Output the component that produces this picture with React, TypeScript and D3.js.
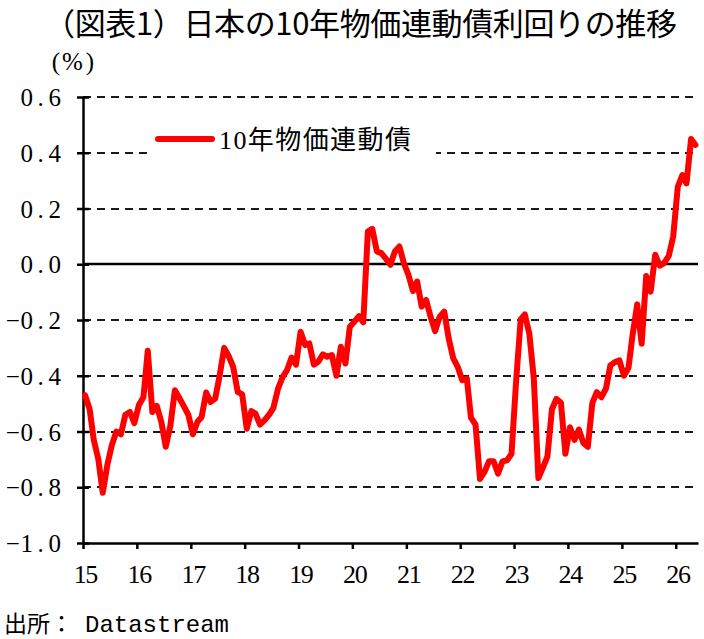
import * as d3 from 'd3';
import { useEffect, useRef } from 'react';

const title = '（図表1）日本の10年物価連動債利回りの推移';
const unitLabel = '(%)';
const seriesName = '10年物価連動債';
const sourceLabel = '出所：';
const sourceName = 'Datastream';

// monthly observations (mid-month)
const months = [
    '2015-01', '2015-02', '2015-03', '2015-04', '2015-05', '2015-06', '2015-07', '2015-08', '2015-09', '2015-10', '2015-11', '2015-12',
    '2016-01', '2016-02', '2016-03', '2016-04', '2016-05', '2016-06', '2016-07', '2016-08', '2016-09', '2016-10', '2016-11', '2016-12',
    '2017-01', '2017-02', '2017-03', '2017-04', '2017-05', '2017-06', '2017-07', '2017-08', '2017-09', '2017-10', '2017-11', '2017-12',
    '2018-01', '2018-02', '2018-03', '2018-04', '2018-05', '2018-06', '2018-07', '2018-08', '2018-09', '2018-10', '2018-11', '2018-12',
    '2019-01', '2019-02', '2019-03', '2019-04', '2019-05', '2019-06', '2019-07', '2019-08', '2019-09', '2019-10', '2019-11', '2019-12',
    '2020-01', '2020-02', '2020-03', '2020-04', '2020-05', '2020-06', '2020-07', '2020-08', '2020-09', '2020-10', '2020-11', '2020-12',
    '2021-01', '2021-02', '2021-03', '2021-04', '2021-05', '2021-06', '2021-07', '2021-08', '2021-09', '2021-10', '2021-11', '2021-12',
    '2022-01', '2022-02', '2022-03', '2022-04', '2022-05', '2022-06', '2022-07', '2022-08', '2022-09', '2022-10', '2022-11', '2022-12',
    '2023-01', '2023-02', '2023-03', '2023-04', '2023-05', '2023-06', '2023-07', '2023-08', '2023-09', '2023-10', '2023-11', '2023-12',
    '2024-01', '2024-02', '2024-03', '2024-04', '2024-05', '2024-06', '2024-07', '2024-08', '2024-09', '2024-10', '2024-11', '2024-12',
    '2025-01', '2025-02', '2025-03', '2025-04', '2025-05', '2025-06', '2025-07', '2025-08', '2025-09', '2025-10', '2025-11', '2025-12',
    '2026-01', '2026-02', '2026-03', '2026-04', '2026-05',
];

// 10y JGBi yield, %
const yields = [
    -0.47, -0.52, -0.63, -0.70, -0.82, -0.72, -0.65, -0.60, -0.61, -0.54, -0.53, -0.57,
    -0.505, -0.476, -0.31, -0.53, -0.508, -0.566, -0.655, -0.58, -0.452, -0.48, -0.51, -0.54,
    -0.61, -0.565, -0.548, -0.46, -0.494, -0.482, -0.40, -0.30, -0.33, -0.368, -0.458, -0.467,
    -0.59, -0.527, -0.536, -0.575, -0.56, -0.54, -0.515, -0.446, -0.405, -0.38, -0.335, -0.36,
    -0.242, -0.29, -0.284, -0.36, -0.35, -0.323, -0.332, -0.326, -0.40, -0.296, -0.356, -0.224,
    -0.206, -0.186, -0.208, 0.117, 0.127, 0.046, 0.04, 0.02, -0.002, 0.046, 0.064, 0.004,
    -0.038, -0.096, -0.062, -0.152, -0.128, -0.19, -0.24, -0.188, -0.17, -0.266, -0.338, -0.368,
    -0.416, -0.41, -0.55, -0.575, -0.77, -0.745, -0.707, -0.707, -0.751, -0.707, -0.703, -0.68,
    -0.42, -0.198, -0.18, -0.25, -0.41, -0.767, -0.73, -0.69, -0.52, -0.483, -0.497, -0.68,
    -0.585, -0.63, -0.593, -0.641, -0.655, -0.497, -0.459, -0.477, -0.446, -0.363, -0.351, -0.345,
    -0.40, -0.371, -0.252, -0.144, -0.285, -0.042, -0.098, 0.034, -0.005, 0.005, 0.03, 0.10,
    0.278, 0.32, 0.29, 0.449, 0.428,
];

const yTicks = [0.6, 0.4, 0.2, 0.0, -0.2, -0.4, -0.6, -0.8, -1.0];
const xTickYears = ['2015', '2016', '2017', '2018', '2019', '2020', '2021', '2022', '2023', '2024', '2025', '2026'];

const serif = '"Liberation Serif", "Noto Sans CJK JP", serif';
const gothic = '"Noto Sans CJK JP", sans-serif';

export default function App() {
    const chartRef = useRef<SVGSVGElement>(null);

    useEffect(() => {
        const width = 704;
        const height = 639;
        const plot = { left: 83, right: 698, top: 97, bottom: 543 };

        const parseMonth = d3.timeParse('%Y-%m-%d');
        const parseYear = d3.timeParse('%Y');
        const data = months.map((m, i) => ({ date: parseMonth(m + '-15') as Date, value: yields[i] }));

        const xScale = d3
            .scaleTime()
            .domain([new Date(2015, 0, 1), new Date(2026, 5, 1)])
            .range([plot.left, plot.right]);

        const yScale = d3.scaleLinear().domain([-1, 0.6]).range([plot.bottom, plot.top]);

        const svg = d3.select(chartRef.current).attr('width', width).attr('height', height);
        svg.selectAll('*').remove();

        // title
        svg.append('text')
            .attr('x', 44)
            .attr('y', 35)
            .attr('textLength', 633)
            .attr('lengthAdjust', 'spacing')
            .style('font-family', gothic)
            .style('font-size', '31px')
            .attr('fill', '#000')
            .text(title);

        // unit label, chars set in fixed cells
        svg.append('text')
            .attr('x', [56, 72.5, 90].join(' '))
            .attr('y', 70)
            .attr('text-anchor', 'middle')
            .style('font-family', serif)
            .style('font-size', '25px')
            .text(unitLabel);

        // gridlines (0 solid, rest dashed)
        const grid = svg.append('g');
        yTicks.filter((t) => t > -1).forEach((t) => {
            grid.append('line')
                .attr('x1', plot.left)
                .attr('x2', plot.right)
                .attr('y1', Math.round(yScale(t)))
                .attr('y2', Math.round(yScale(t)))
                .attr('stroke', t === 0 ? '#000' : '#1a1a1a')
                .attr('stroke-width', t === 0 ? 2.5 : 2)
                .attr('stroke-dasharray', t === 0 ? null : '8,6');
        });

        // y axis
        const yAxis = svg.append('g')
            .attr('transform', `translate(${plot.left},0)`)
            .call(d3.axisLeft(yScale).tickValues(yTicks).tickSize(6).tickSizeOuter(0).tickFormat(() => ''));
        yAxis.select('.domain').attr('stroke', '#000').attr('stroke-width', 2.5);
        yAxis.selectAll('.tick line').attr('x1', 6).attr('x2', -6).attr('stroke', '#000').attr('stroke-width', 2.5);

        // y labels, monospaced cells like the original
        const fmt = d3.format('.1f');
        yTicks.forEach((t) => {
            const chars = Array.from(fmt(t));
            const xs = chars.map((_, i) => 54.7 - 14 * (chars.length - 1 - i));
            svg.append('text')
                .attr('x', xs.join(' '))
                .attr('y', yScale(t) + 9)
                .attr('text-anchor', 'middle')
                .style('font-family', serif)
                .style('font-size', '25px')
                .text(chars.join(''));
        });

        // x axis
        const yearDates = xTickYears.map((yr) => parseYear(yr) as Date);
        const xAxis = svg.append('g')
            .attr('transform', `translate(0,${plot.bottom})`)
            .call(d3.axisBottom(xScale).tickValues(yearDates).tickSize(6).tickSizeOuter(0).tickFormat(() => ''));
        xAxis.select('.domain').attr('stroke', '#000').attr('stroke-width', 2.5);
        xAxis.selectAll('.tick line').attr('stroke', '#000').attr('stroke-width', 2.5);

        const yearFmt = d3.timeFormat('%y');
        yearDates.forEach((d) => {
            const cx = xScale(d) + 3;
            svg.append('text')
                .attr('x', [cx - 5.85, cx + 5.85].join(' '))
                .attr('y', 583)
                .attr('text-anchor', 'middle')
                .style('font-family', serif)
                .style('font-size', '26px')
                .text(yearFmt(d));
        });

        // the series
        const line = d3
            .line<{ date: Date; value: number }>()
            .x((d) => xScale(d.date))
            .y((d) => yScale(d.value));

        svg.append('path')
            .datum(data)
            .attr('d', line)
            .attr('fill', 'none')
            .attr('stroke', '#ff0000')
            .attr('stroke-width', 6)
            .attr('stroke-linejoin', 'round')
            .attr('stroke-linecap', 'round');

        // legend (white box hides the 0.4 gridline behind it)
        const legend = svg.append('g');
        legend.append('rect')
            .attr('x', 148)
            .attr('y', 120)
            .attr('width', 288)
            .attr('height', 48)
            .attr('fill', '#fff');
        legend.append('line')
            .attr('x1', 158)
            .attr('x2', 212)
            .attr('y1', 139)
            .attr('y2', 139)
            .attr('stroke', '#ff0000')
            .attr('stroke-width', 6)
            .attr('stroke-linecap', 'round');
        legend.append('text')
            .attr('x', 219)
            .attr('y', 149)
            .attr('textLength', 192)
            .attr('lengthAdjust', 'spacing')
            .style('font-family', serif)
            .style('font-size', '26px')
            .text(seriesName);

        // source
        const src = svg.append('text').attr('x', 4).attr('y', 632);
        src.append('tspan').style('font-family', gothic).style('font-size', '23px').text(sourceLabel);
        src.append('tspan')
            .attr('x', 85)
            .style('font-family', '"Liberation Mono", monospace')
            .style('font-size', '24px')
            .text(sourceName);

        return () => {
            d3.select(chartRef.current).selectAll('*').remove();
        };
    }, []);

    return (
        <svg
            ref={chartRef}
            style={{ position: 'absolute', left: 0, top: 0, background: '#fff' }}
        />
    );
}
